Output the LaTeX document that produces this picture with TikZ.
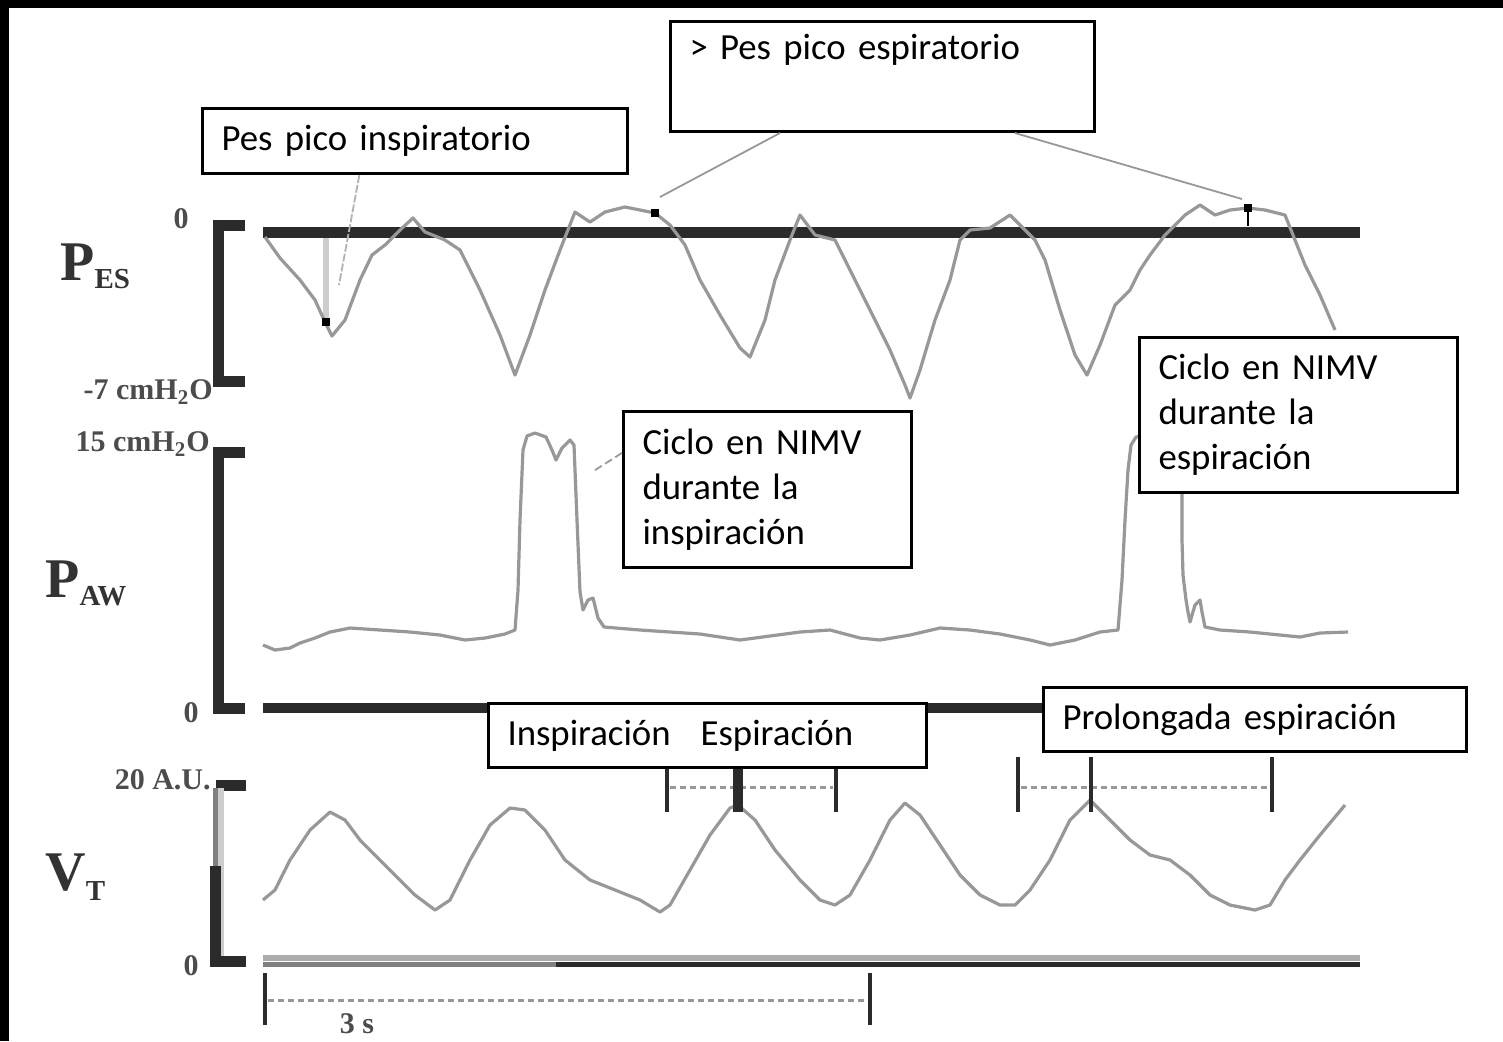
\documentclass[tikz,border=0pt]{standalone}
\usepackage{fontspec}
\setmainfont[WordSpace=0.8]{Carlito}
\newfontfamily\plotfont{Liberation Serif}
\usetikzlibrary{calc}
\definecolor{axisgray}{RGB}{43,43,43}
\definecolor{tracegray}{RGB}{152,152,152}
\definecolor{palegray}{RGB}{205,205,205}
\begin{document}
\begin{tikzpicture}[x=0.5pt, y=-0.5pt,
    axis/.style={draw=axisgray, line width=5.5pt, line join=miter},
    trace/.style={draw=tracegray, line width=1.6pt, line join=round},
    leader/.style={draw=tracegray, line width=0.9pt},
    dotline/.style={draw=tracegray, line width=1.5pt, dash pattern=on 3pt off 2pt},
    tickmark/.style={draw=axisgray, line width=2pt},
    dotmark/.style={fill=black, minimum size=4pt, inner sep=0pt},
    callout/.style={draw, line width=1.5pt, fill=white, anchor=north west, align=left,
        inner xsep=9.5pt, font=\fontsize{18.4}{22.5}\selectfont},
    scalelbl/.style={font=\plotfont\bfseries\fontsize{15}{15}\selectfont, text=black!70, inner sep=0pt},
    chanlbl/.style={font=\plotfont\bfseries\fontsize{28}{28}\selectfont, text=black!80,
        inner sep=0pt, anchor=base west}]
    \def\xa{263}
    \def\xb{1360}
    \useasboundingbox (0,0) rectangle (1503,1041);
    \fill[black] (0,0) rectangle (1503,1041);
    \fill[white] (9,8) rectangle (1503,1041);

    % axes
    \draw[axis] (245,225) -- (218,225) -- (218,381) -- (245,381);
    \draw[axis] (\xa,232) -- (\xb,232);
    \draw[axis] (245,452) -- (218,452) -- (218,708) -- (245,708);
    \draw[axis, line width=5pt] (\xa,708) -- (\xb,708);
    \draw[axis] (246,785) -- (216,785);
    \draw[draw=gray, line width=2.5pt] (215.5,788) -- (215.5,866);
    \draw[draw=palegray, line width=3pt] (221,788) -- (221,958);
    \draw[axis] (215.5,866) -- (215.5,961) -- (246,961);
    \draw[draw=gray!65, line width=3pt] (\xa,958) -- (\xb,958);
    \draw[draw=gray, line width=2.5pt] (\xa,964) -- (556,964);
    \draw[draw=axisgray, line width=2.5pt] (556,964) -- (\xb,964);

    % P_ES
    \draw[draw=palegray, line width=3pt] (326,238) -- (326,318);
    \draw[trace] (265,237) -- (280,258) -- (300,280) -- (315,300) -- (325,322) -- (332,336)
        -- (345,320) -- (360,280) -- (372,255) -- (385,245) -- (400,230) -- (413,218)
        -- (425,232) -- (445,240) -- (460,250) -- (480,290) -- (500,335) -- (515,375)
        -- (530,335) -- (545,290) -- (560,250) -- (575,212) -- (590,222) -- (605,212)
        -- (625,207) -- (640,210) -- (655,213) -- (670,225) -- (685,245) -- (700,280)
        -- (720,315) -- (740,348) -- (750,357) -- (765,320) -- (775,280) -- (790,240)
        -- (800,215) -- (815,235) -- (835,240) -- (850,270) -- (870,310) -- (890,350)
        -- (905,385) -- (910,398) -- (920,370) -- (935,320) -- (950,280) -- (960,240)
        -- (970,230) -- (990,228) -- (1010,215) -- (1020,225) -- (1035,240) -- (1045,260)
        -- (1060,310) -- (1075,355) -- (1087,375) -- (1100,345) -- (1115,305) -- (1130,290)
        -- (1140,270) -- (1150,255) -- (1165,235) -- (1185,215) -- (1200,205) -- (1215,215)
        -- (1230,210) -- (1248,208) -- (1265,210) -- (1285,215) -- (1295,240) -- (1305,265)
        -- (1320,295) -- (1335,330);
    \node[dotmark] (dinsp) at (326,322) {};
    \node[dotmark] (despA) at (655,213) {};
    \node[dotmark] (despB) at (1248,208) {};
    \draw[draw=black, line width=1pt] (despB) -- (1248,226);
    \coordinate (insend) at (339,285);
    \coordinate (espendA) at (660,197);
    \coordinate (espendB) at (1242,199);

    % P_AW
    \draw[trace] (263,645) -- (275,650) -- (290,648) -- (300,643) -- (315,638) -- (330,632)
        -- (350,628) -- (380,630) -- (410,632) -- (440,635) -- (465,640) -- (485,638)
        -- (505,634) -- (515,630) -- (518,590) -- (520,520) -- (523,450) -- (527,436)
        -- (535,433) -- (546,437) -- (552,450) -- (556,460) -- (562,448) -- (570,440)
        -- (574,445) -- (577,520) -- (580,592) -- (583,610) -- (588,600) -- (593,598)
        -- (598,618) -- (604,627) -- (640,630) -- (700,634) -- (740,640) -- (770,636)
        -- (800,632) -- (830,630) -- (860,638) -- (880,640) -- (910,635) -- (940,628)
        -- (970,630) -- (1000,634) -- (1030,640) -- (1050,645) -- (1075,640) -- (1100,632)
        -- (1118,630) -- (1122,580) -- (1125,520) -- (1128,470) -- (1131,445) -- (1136,437)
        -- (1142,436);
    \draw[trace] (1182,490) -- (1182,540) -- (1183,575) -- (1186,600) -- (1188,612)
        -- (1190,622) -- (1195,605) -- (1200,600) -- (1202,612) -- (1205,627) -- (1220,630)
        -- (1250,632) -- (1280,635) -- (1300,637) -- (1320,633) -- (1348,632);
    \coordinate (insciclo) at (592,472);

    % V_T
    \draw[trace] (263,900) -- (275,890) -- (290,860) -- (310,830) -- (330,812) -- (345,820)
        -- (360,840) -- (380,860) -- (400,880) -- (415,895) -- (435,910) -- (450,900)
        -- (470,860) -- (490,825) -- (510,808) -- (525,810) -- (545,830) -- (565,860)
        -- (590,880) -- (615,890) -- (640,900) -- (660,912) -- (670,905) -- (690,870)
        -- (710,835) -- (730,808) -- (738,805) -- (755,820) -- (775,850) -- (800,880)
        -- (820,900) -- (835,905) -- (850,895) -- (870,860) -- (890,820) -- (905,803)
        -- (920,815) -- (940,845) -- (960,875) -- (980,895) -- (1000,905) -- (1015,905)
        -- (1030,890) -- (1050,860) -- (1070,820) -- (1090,800) -- (1110,820) -- (1130,840)
        -- (1150,855) -- (1170,860) -- (1190,875) -- (1210,895) -- (1230,905) -- (1255,910)
        -- (1270,905) -- (1285,880) -- (1300,860) -- (1320,835) -- (1345,805);
    \draw[dotline] (670,787) -- (833,787);
    \draw[tickmark] (667,767) -- (667,812);
    \draw[tickmark, line width=5pt] (738,767) -- (738,812);
    \draw[tickmark] (836,767) -- (836,812);
    \draw[dotline] (1021,787) -- (1269,787);
    \draw[tickmark] (1018,757) -- (1018,812);
    \draw[tickmark] (1091,757) -- (1091,812);
    \draw[tickmark] (1272,757) -- (1272,812);

    % time scale
    \draw[dotline] (268,1000) -- (867,1000);
    \draw[tickmark] (265,973) -- (265,1025);
    \draw[tickmark] (870,973) -- (870,1025);

    % channel and scale labels
    \node[chanlbl] (lpes) at (60,280) {P\raisebox{-4pt}{\fontsize{14.5}{14.5}\selectfont ES}};
    \node[chanlbl] (lpaw) at (45,597) {P\raisebox{-4pt}{\fontsize{14.5}{14.5}\selectfont AW}};
    \node[chanlbl] (lvt) at (45,890) {V\raisebox{-5pt}{\fontsize{14.5}{14.5}\selectfont T}};
    \node[scalelbl] (ypestop) at (181,219) {0};
    \node[scalelbl, anchor=east] (ypesbot) at (213,392) {-7 cmH\textsubscript{2}O};
    \node[scalelbl, anchor=east] (ypawtop) at (210,444) {15 cmH\textsubscript{2}O};
    \node[scalelbl] (ypawbot) at (191,713) {0};
    \node[scalelbl, anchor=east] (yvttop) at (211,780) {20 A.U.};
    \node[scalelbl] (yvtbot) at (191,966) {0};
    \node[scalelbl] (tscale) at (357,1024) {3 s};

    % callouts
    \node[callout, text width=193.5pt, minimum height=32.5pt] (insbox) at (201,107)
        {Pes pico inspiratorio};
    \node[callout, text width=193pt, minimum height=55pt] (espbox) at (669,20)
        {> Pes pico espiratorio\\\strut};
    \node[callout, text width=125pt, minimum height=78pt] (cicloins) at (622,410)
        {Ciclo en NIMV\\durante la\\inspiración};
    \node[callout, text width=140pt, minimum height=77.5pt] (cicloesp) at (1138,336)
        {Ciclo en NIMV\\durante la\\espiración};
    \node[callout, text width=200pt, minimum height=32pt] (fasebox) at (487,702)
        {Inspiración\hspace{15pt}Espiración};
    \node[callout, text width=192.5pt, minimum height=32pt] (prolbox) at (1042,686)
        {Prolongada espiración};

    % leaders
    \draw[leader, draw=gray!60, dash pattern=on 4pt off 1pt] ($(insbox.south west)!0.37!(insbox.south east)$) -- (insend);
    \draw[leader] ($(espbox.south west)!0.26!(espbox.south east)$) -- (espendA);
    \draw[leader] ($(espbox.south west)!0.81!(espbox.south east)$) -- (espendB);
    \draw[leader, dash pattern=on 4pt off 2pt] ($(cicloins.north west)!0.27!(cicloins.south west)$) -- (insciclo);
\end{tikzpicture}
\end{document}
